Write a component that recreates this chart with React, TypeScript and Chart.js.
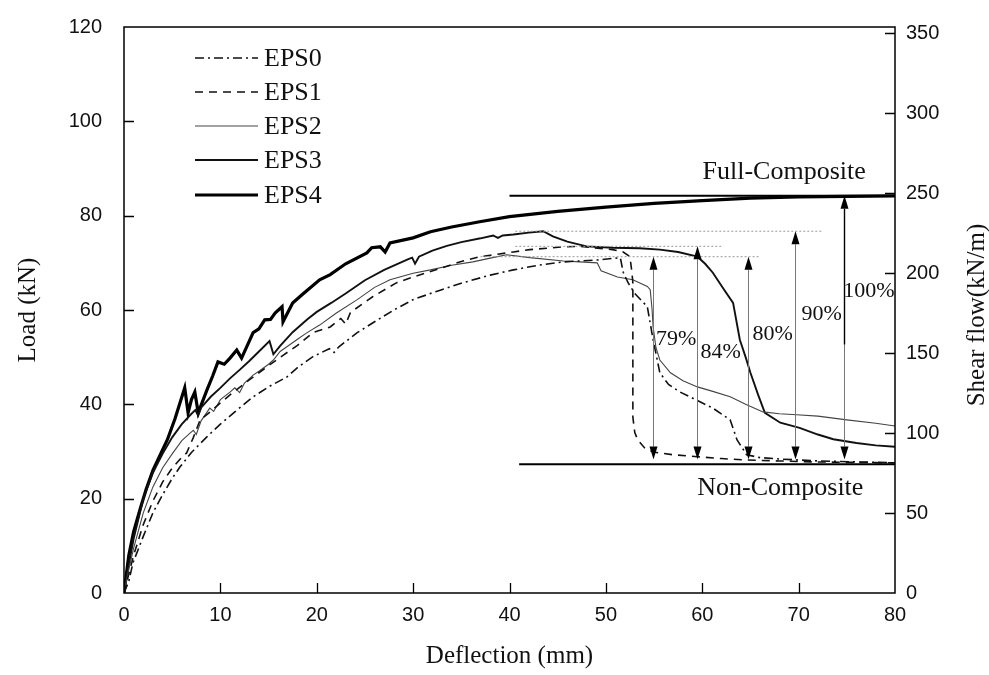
import React, { useEffect, useRef } from 'react';
import { Chart, registerables } from 'chart.js';

Chart.register(...registerables);

// ---------- data ----------
const eps0X = [0, 0.5, 0.93, 2, 3, 4, 5, 5.8, 7, 8.6, 10, 11.5, 13.4, 15, 16.9, 18, 19.6, 20.5, 21.3, 21.8, 22.3, 24.2, 26, 28, 30, 32.5, 35.2, 38, 40.4, 43, 45.6, 49.1, 51.5, 51.8, 52.3, 53, 54.3, 54.9, 55.6, 56.5, 57.7, 59.5, 61.1, 62.9, 63.6, 64.6, 66, 68.1, 72, 76, 80];
const eps0Y = [0, 2.5, 6.4, 12, 17, 20.8, 24.3, 26.7, 29.8, 33.1, 35.8, 38.4, 41.6, 43.7, 45.8, 47.8, 50.1, 51, 51.8, 51, 52.2, 55.2, 57.5, 60, 62.2, 64, 65.8, 67.4, 68.5, 69.5, 70.2, 70.6, 71.1, 68, 65.8, 63.5, 60.7, 53.7, 46.7, 44.2, 42.6, 40.8, 39.2, 36.7, 32.5, 29.3, 28.7, 28.4, 28, 27.8, 27.6];

const eps1X = [0, 0.5, 1, 2, 3, 4, 5, 6, 6.5, 7.2, 7.9, 9, 10, 11, 12, 13, 14, 15, 16.5, 18, 19.6, 21.4, 22.5, 23, 23.5, 25.8, 28.3, 30, 32.8, 35, 36.9, 38, 40.4, 42.1, 45.6, 47.3, 48.7, 50.7, 51.8, 52.5, 52.7, 52.8, 52.8, 52.8, 53, 53.3, 54, 54.9, 57, 59.5, 62, 64.6, 68, 71.5, 75, 80];
const eps1Y = [0, 4, 8, 14.5, 19.5, 23.5, 26.5, 28.8, 29.7, 33, 36.7, 38.5, 40.3, 42, 43.6, 45.2, 46.7, 48.2, 50.4, 52.5, 55.2, 56.4, 58.2, 57, 59.5, 62.8, 65.8, 67, 68.8, 70.3, 71.3, 71.6, 72.3, 72.8, 73.4, 73.5, 73.2, 72.8, 72.3, 71.3, 68, 65.8, 48, 37.3, 34, 32.5, 30.8, 29.9, 29.3, 28.9, 28.5, 28.2, 28, 27.8, 27.7, 27.6];

const eps2X = [0, 0.5, 1, 2, 3, 4, 5, 6, 6.85, 7.2, 7.5, 8, 8.9, 9.3, 10, 11, 11.5, 12, 12.5, 13.4, 14, 15, 15.5, 16.2, 16.9, 18, 19, 20.3, 22, 24.2, 26, 27.6, 30, 31.8, 34, 36.2, 38, 39.7, 42.1, 45.6, 47.3, 49.1, 49.5, 51.2, 52.8, 54.3, 54.6, 54.8, 54.9, 55.2, 55.6, 56.7, 58, 59.5, 61, 62.9, 64.5, 66.3, 68, 69.8, 72, 75, 78, 80];
const eps2Y = [0, 5, 9.5, 17, 22.5, 26.5, 29.5, 32.3, 33.9, 34.5, 33.6, 36.5, 39.2, 38.5, 41, 42.6, 43.5, 42.5, 44.5, 46.2, 47, 48.5, 49.4, 51.2, 52.2, 53.8, 55.2, 56.8, 59.3, 62.2, 64.8, 66.4, 67.8, 68.5, 69.5, 70.2, 71, 71.7, 71.1, 70.4, 70.2, 70, 68.3, 67, 66.4, 65, 64.3, 60, 56.4, 52, 49.4, 46.7, 45, 43.7, 42.8, 41.6, 40, 38.4, 38, 37.8, 37.5, 36.7, 36, 35.4];

const eps3X = [0, 0.5, 1, 2, 3, 4, 5, 6, 7, 7.4, 7.7, 8, 9, 10, 11, 12, 13, 14, 15.1, 15.5, 16.2, 17.5, 19, 20, 21.5, 23, 25, 27, 29.5, 29.9, 30.2, 30.6, 32, 33.5, 35, 37, 38.3, 38.8, 39.3, 40.4, 42, 43.5, 44.5, 46, 48, 50.7, 53.5, 55.6, 57.5, 59.5, 60.3, 61.1, 62.2, 63.2, 63.9, 64.5, 65, 65.8, 66.5, 68.1, 70.1, 72, 73.6, 76, 78, 80];
const eps3Y = [0, 6, 11.5, 20, 25.5, 29.5, 33, 35.8, 38, 38.8, 37.6, 39.3, 41.6, 43.5, 45.5, 47.3, 49.2, 51.2, 53.4, 50.6, 52.4, 55.3, 58, 59.6, 61.5, 63.5, 66.3, 68.5, 70.8, 71.1, 69.8, 71.3, 72.6, 73.6, 74.4, 75.2, 75.8, 75.3, 75.8, 76, 76.4, 76.7, 75.6, 74.5, 73.5, 73.2, 73.1, 72.8, 72.3, 71.3, 69.8, 67.9, 64.5, 61.5, 53.7, 50, 46.7, 42, 38.2, 36.1, 35, 33.6, 32.6, 31.8, 31.3, 31];

const eps4X = [0, 0.5, 1, 1.7, 2.3, 3, 3.8, 4.5, 5.3, 6.3, 6.65, 7, 7.35, 7.7, 8.6, 9.2, 9.75, 10.4, 11, 11.7, 12.2, 13.4, 14, 14.6, 15.2, 15.7, 16.4, 16.5, 17.5, 18.5, 20.3, 21.4, 23, 25.2, 25.7, 26.6, 27.1, 27.6, 30, 31.8, 34, 36.9, 40, 45, 50, 55, 60, 65, 70, 75, 80];
const eps4Y = [0, 8, 13, 18, 22, 26, 29.5, 32.5, 37, 43.5, 38.2, 41, 42.6, 38.2, 43, 46, 49, 48.5, 49.8, 51.5, 49.8, 55.2, 56, 57.9, 58, 59.4, 60.7, 57.5, 61.5, 63.3, 66.4, 67.5, 69.8, 72.1, 73.2, 73.4, 72.3, 74.2, 75.3, 76.6, 77.6, 78.7, 79.8, 80.9, 81.8, 82.6, 83.2, 83.7, 84, 84.1, 84.2];

const seriesNames = ['EPS0', 'EPS1', 'EPS2', 'EPS3', 'EPS4'];

// reference lines
const fullCompositeX = [40, 80];
const fullCompositeY = [84.2, 84.2];
const nonCompositeX = [41, 80];
const nonCompositeY = [27.3, 27.3];
const dottedX = [[40.6, 72.5], [40.6, 62.2], [37, 66]];
const dottedY = [76.7, 73.5, 71.3];

// double arrows
const arrowX = [54.9, 59.5, 64.7, 69.6, 74.7];
const arrowTop = [71.3, 73.5, 71.3, 76.7, 84.2];
const arrowBottom = 28.3;
const arrowDarkUntil = [null, null, null, null, 52.7];
const pctLabels = ['79%', '84%', '80%', '90%', '100%'];
const pctX = [57.3, 61.9, 67.3, 72.4, 77.3];
const pctY = [53.9, 51.0, 54.9, 59.1, 63.9];

const fullLabel = { text: 'Full-Composite', x: 68.5, y: 89.3 };
const nonLabel = { text: 'Non-Composite', x: 68.1, y: 22.3 };

const xTitle = 'Deflection (mm)';
const yTitle = 'Load (kN)';
const y2Title = 'Shear flow(kN/m)';

const SERIF = '"Liberation Serif", "Times New Roman", serif';
const SANS = '"Liberation Sans", Arial, sans-serif';

const pts = (xs: number[], ys: number[]) => xs.map((x, i) => ({ x, y: ys[i] }));

const seriesStyles = [
  { borderColor: '#111', borderWidth: 1.6, borderDash: [9, 4, 2, 4] },
  { borderColor: '#111', borderWidth: 1.6, borderDash: [8, 6] },
  { borderColor: '#444', borderWidth: 1.1, borderDash: [] as number[] },
  { borderColor: '#111', borderWidth: 1.9, borderDash: [] as number[] },
  { borderColor: '#000', borderWidth: 3.2, borderDash: [] as number[] },
];

const decorPlugin = {
  id: 'decor',
  afterDatasetsDraw(chart: any) {
    const { ctx, chartArea: a, scales } = chart;
    const xs = scales.x, ys = scales.y, y2 = scales.y2;
    ctx.save();
    // frame
    ctx.strokeStyle = '#000';
    ctx.lineWidth = 1.5;
    ctx.setLineDash([]);
    ctx.strokeRect(a.left, a.top, a.right - a.left, a.bottom - a.top);
    // inward ticks
    ctx.lineWidth = 1.3;
    const tl = 10;
    ctx.beginPath();
    xs.ticks.forEach((t: any) => {
      if (t.value <= xs.min || t.value >= xs.max) return;
      const p = Math.round(xs.getPixelForValue(t.value)) + 0.5;
      ctx.moveTo(p, a.bottom); ctx.lineTo(p, a.bottom - tl);
    });
    ys.ticks.forEach((t: any) => {
      if (t.value <= ys.min || t.value >= ys.max) return;
      const p = Math.round(ys.getPixelForValue(t.value)) + 0.5;
      ctx.moveTo(a.left, p); ctx.lineTo(a.left + tl, p);
    });
    y2.ticks.forEach((t: any) => {
      if (t.value <= y2.min || t.value >= y2.max) return;
      const p = Math.round(y2.getPixelForValue(t.value)) + 0.5;
      ctx.moveTo(a.right, p); ctx.lineTo(a.right - tl, p);
    });
    ctx.stroke();

    // arrows
    arrowX.forEach((xv, i) => {
      const px = Math.round(xs.getPixelForValue(xv)) + 0.5;
      const top = ys.getPixelForValue(arrowTop[i]);
      const bot = ys.getPixelForValue(arrowBottom);
      const hl = 13, hw = 4;
      ctx.lineWidth = 1;
      ctx.strokeStyle = '#777';
      ctx.beginPath();
      ctx.moveTo(px, top + hl); ctx.lineTo(px, bot - hl);
      ctx.stroke();
      const dark = arrowDarkUntil[i];
      if (dark != null) {
        ctx.strokeStyle = '#000';
        ctx.lineWidth = 1.4;
        ctx.beginPath();
        ctx.moveTo(px, top + hl); ctx.lineTo(px, ys.getPixelForValue(dark));
        ctx.stroke();
      }
      ctx.fillStyle = '#000';
      ctx.beginPath();
      ctx.moveTo(px, top); ctx.lineTo(px - hw, top + hl); ctx.lineTo(px + hw, top + hl); ctx.closePath();
      ctx.fill();
      ctx.beginPath();
      ctx.moveTo(px, bot); ctx.lineTo(px - hw, bot - hl); ctx.lineTo(px + hw, bot - hl); ctx.closePath();
      ctx.fill();
    });

    // texts
    ctx.fillStyle = '#111';
    ctx.textAlign = 'center';
    ctx.textBaseline = 'middle';
    ctx.font = `22px ${SERIF}`;
    pctLabels.forEach((t, i) => {
      ctx.fillText(t, xs.getPixelForValue(pctX[i]), ys.getPixelForValue(pctY[i]));
    });
    ctx.font = `26px ${SERIF}`;
    ctx.fillText(fullLabel.text, xs.getPixelForValue(fullLabel.x), ys.getPixelForValue(fullLabel.y));
    ctx.fillText(nonLabel.text, xs.getPixelForValue(nonLabel.x), ys.getPixelForValue(nonLabel.y));

    // legend
    const rows = [58, 92, 126, 160, 195];
    seriesNames.forEach((name, i) => {
      const st = seriesStyles[i];
      ctx.strokeStyle = st.borderColor;
      ctx.lineWidth = st.borderWidth;
      ctx.setLineDash(st.borderDash);
      ctx.beginPath();
      ctx.moveTo(195, rows[i]); ctx.lineTo(258, rows[i]);
      ctx.stroke();
      ctx.setLineDash([]);
      ctx.fillStyle = '#111';
      ctx.textAlign = 'left';
      ctx.font = `26px ${SERIF}`;
      ctx.fillText(name, 264, rows[i] + 1);
    });

    // right title rotated
    ctx.save();
    ctx.translate(a.right + 82, (a.top + a.bottom) / 2 + 5);
    ctx.rotate(-Math.PI / 2);
    ctx.textAlign = 'center';
    ctx.textBaseline = 'middle';
    ctx.font = `25px ${SERIF}`;
    ctx.fillStyle = '#111';
    ctx.fillText(y2Title, 0, 0);
    ctx.restore();

    ctx.restore();
  },
};

export default function App() {
  const ref = useRef<HTMLCanvasElement | null>(null);
  useEffect(() => {
    if (!ref.current) return;
    const seriesX = [eps0X, eps1X, eps2X, eps3X, eps4X];
    const seriesY = [eps0Y, eps1Y, eps2Y, eps3Y, eps4Y];
    const datasets: any[] = [];
    dottedY.forEach((yv, i) => {
      datasets.push({
        label: 'ref' + i,
        data: pts(dottedX[i], [yv, yv]),
        borderColor: '#9a9a9a', borderWidth: 1, borderDash: [2, 2],
        pointRadius: 0, yAxisID: 'y',
      });
    });
    datasets.push({ label: 'full', data: pts(fullCompositeX, fullCompositeY), borderColor: '#000', borderWidth: 2, pointRadius: 0, yAxisID: 'y' });
    datasets.push({ label: 'non', data: pts(nonCompositeX, nonCompositeY), borderColor: '#000', borderWidth: 2, pointRadius: 0, yAxisID: 'y' });
    seriesNames.forEach((n, i) => {
      datasets.push({
        label: n,
        data: pts(seriesX[i], seriesY[i]),
        ...seriesStyles[i],
        pointRadius: 0,
        tension: 0,
        yAxisID: 'y',
      });
    });

    const chart = new Chart(ref.current, {
      type: 'line',
      data: { datasets },
      options: {
        animation: false,
        responsive: false,
        devicePixelRatio: 1,
        layout: { padding: { top: 27, left: 0, right: 0, bottom: 0 } },
        plugins: { legend: { display: false }, tooltip: { enabled: false } },
        scales: {
          x: {
            type: 'linear', min: 0, max: 80,
            grid: { display: false },
            border: { display: false },
            ticks: { stepSize: 10, color: '#111', padding: 2, font: { family: SANS, size: 20 } },
            title: { display: true, text: xTitle, color: '#111', font: { family: SERIF, size: 25 }, padding: { top: 0, bottom: 4 } },
            afterFit: (s: any) => { s.height = 82; },
          },
          y: {
            type: 'linear', position: 'left', min: 0, max: 120,
            grid: { display: false },
            border: { display: false },
            ticks: { stepSize: 20, color: '#111', padding: 14, font: { family: SANS, size: 20 } },
            title: { display: true, text: yTitle, color: '#111', font: { family: SERIF, size: 25 }, padding: { top: 13, bottom: 0 } },
            afterFit: (s: any) => { s.width = 124; },
          },
          y2: {
            type: 'linear', position: 'right', min: 0, max: 353.75,
            grid: { display: false },
            border: { display: false },
            ticks: { stepSize: 50, includeBounds: false, color: '#111', padding: 3, font: { family: SANS, size: 20 } },
            afterFit: (s: any) => { s.width = 94; },
          },
        },
      },
      plugins: [decorPlugin],
    });
    return () => chart.destroy();
  }, []);

  return (
    <div style={{ position: 'absolute', left: 0, top: 0, width: 989, height: 675, background: '#fff' }}>
      <canvas ref={ref} width={989} height={675} style={{ display: 'block', width: 989, height: 675 }} />
    </div>
  );
}
